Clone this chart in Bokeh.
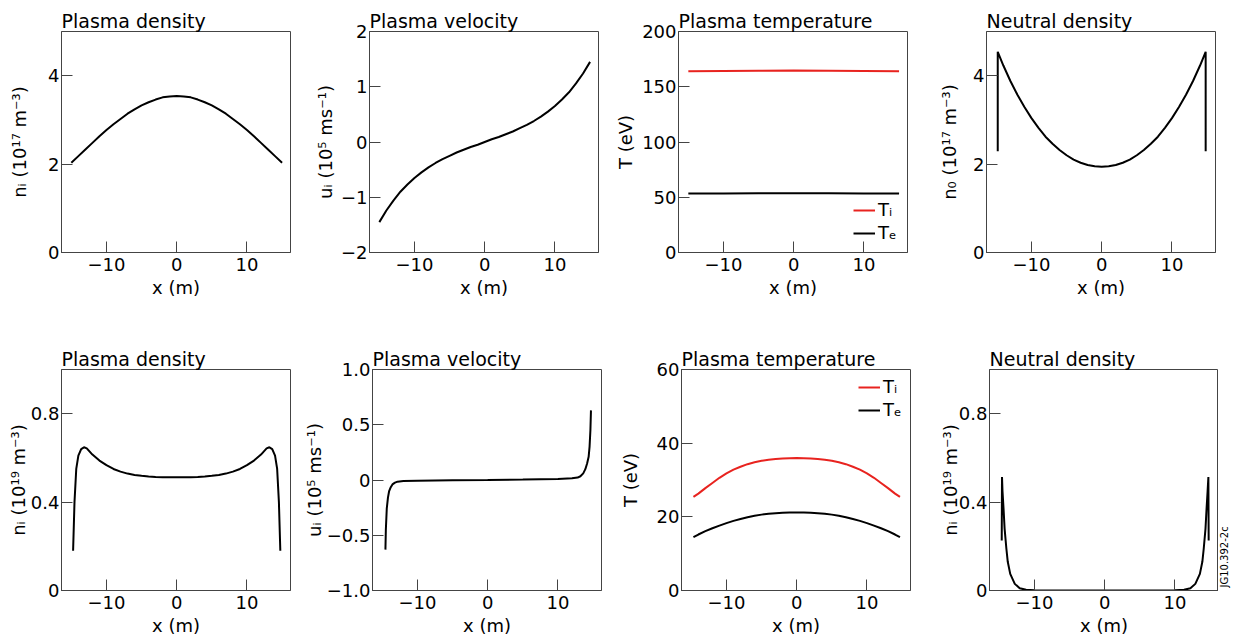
import math
from bokeh.plotting import figure
from bokeh.layouts import column, row
from bokeh.models import Range1d, FixedTicker, Legend, LegendItem, Label
from bokeh.embed import file_html
from bokeh.resources import INLINE

FONT = "DejaVu Sans"
RED = "#e8231f"
FRAME = "#444444"

# ---------------- data ----------------
x_top = [-15, -14, -13, -12, -11, -10, -9, -8, -7, -6, -5, -4, -3, -2, -1, 0,
         1, 2, 3, 4, 5, 6, 7, 8, 9, 10, 11, 12, 13, 14, 15]
ni_top = [2.03, 2.18, 2.33, 2.48, 2.63, 2.77, 2.90, 3.02, 3.14, 3.24, 3.33, 3.40, 3.46, 3.51, 3.53, 3.54,
          3.53, 3.51, 3.46, 3.40, 3.33, 3.24, 3.14, 3.02, 2.90, 2.77, 2.63, 2.48, 2.33, 2.18, 2.03]
ui_top = [-1.45, -1.24, -1.06, -0.90, -0.77, -0.65, -0.55, -0.46, -0.38, -0.31, -0.25, -0.19, -0.14, -0.09, -0.05, 0.00,
          0.05, 0.09, 0.14, 0.19, 0.25, 0.31, 0.38, 0.46, 0.55, 0.65, 0.77, 0.90, 1.06, 1.24, 1.45]
x_temp_top = [-15, -10, -5, 0, 5, 10, 15]
ti_top = [164.0, 164.3, 164.5, 164.6, 164.5, 164.3, 164.0]
te_top = [53.3, 53.5, 53.6, 53.6, 53.6, 53.5, 53.3]
x_n0_top = [-14.8, -14.8, -14, -13, -12, -11, -10, -9, -8, -7, -6, -5, -4, -3, -2, -1, 0,
            1, 2, 3, 4, 5, 6, 7, 8, 9, 10, 11, 12, 13, 14, 14.8, 14.8]
n0_top = [2.29, 4.54, 4.23, 3.88, 3.57, 3.29, 3.04, 2.82, 2.62, 2.46, 2.32, 2.20, 2.10, 2.03, 1.98, 1.95, 1.94,
          1.95, 1.98, 2.03, 2.10, 2.20, 2.32, 2.46, 2.62, 2.82, 3.04, 3.29, 3.57, 3.88, 4.23, 4.54, 2.29]

x_ni_bot = [-14.75, -14.55, -14.3, -14.0, -13.6, -13.2, -12.8, -12.0, -11.0, -10.0, -9.0, -8.0, -7.0, -6.0,
            -5.0, -4.0, -3.0, -2.0, -1.0, 0.0, 1.0, 2.0, 3.0, 4.0, 5.0, 6.0, 7.0, 8.0, 9.0, 10.0, 11.0, 12.0,
            12.8, 13.2, 13.6, 14.0, 14.3, 14.55, 14.75]
ni_bot = [0.18, 0.40, 0.55, 0.61, 0.64, 0.648, 0.643, 0.615, 0.588, 0.567, 0.550, 0.538, 0.529, 0.523,
          0.519, 0.516, 0.514, 0.513, 0.512, 0.512, 0.512, 0.513, 0.514, 0.516, 0.519, 0.523, 0.529, 0.538,
          0.550, 0.567, 0.588, 0.615, 0.643, 0.648, 0.64, 0.61, 0.55, 0.40, 0.18]
x_ui_bot = [-14.56, -14.5, -14.37, -14.2, -14.03, -13.8, -13.56, -13.2, -12.84, -12.0, -10.0, -5.0, 0.0,
            5.0, 10.0, 12.0, 12.8, 13.2, 13.6, 13.9, 14.15, 14.37, 14.5, 14.62, 14.7]
ui_bot = [-0.63, -0.45, -0.26, -0.16, -0.10, -0.065, -0.04, -0.024, -0.015, -0.010, -0.007, -0.003, 0.0,
          0.004, 0.009, 0.015, 0.022, 0.034, 0.06, 0.098, 0.15, 0.21, 0.30, 0.45, 0.63]
x_temp_bot = [-14.7, -14, -13, -12, -11, -10, -9, -8, -7, -6, -5, -4, -3, -2, -1, 0,
              1, 2, 3, 4, 5, 6, 7, 8, 9, 10, 11, 12, 13, 14, 14.7]
ti_bot = [25.4, 26.3, 27.8, 29.2, 30.6, 31.8, 32.8, 33.6, 34.3, 34.8, 35.2, 35.5, 35.7, 35.85, 35.9, 35.95,
          35.9, 35.85, 35.7, 35.5, 35.2, 34.8, 34.3, 33.6, 32.8, 31.8, 30.6, 29.2, 27.8, 26.3, 25.4]
te_bot = [14.5, 15.2, 16.1, 16.9, 17.6, 18.3, 18.9, 19.4, 19.9, 20.3, 20.6, 20.85, 21.0, 21.1, 21.15, 21.2,
          21.15, 21.1, 21.0, 20.85, 20.6, 20.3, 19.9, 19.4, 18.9, 18.3, 17.6, 16.9, 16.1, 15.2, 14.5]
x_n0_bot = [-14.66, -14.62, -14.55, -14.4, -14.25, -14.0, -13.8, -13.45, -12.8, -12.1, -11.2, -10.0, 0.0,
            10.0, 11.3, 12.2, 12.9, 13.55, 13.9, 14.1, 14.35, 14.5, 14.65, 14.76, 14.8]
n0_bot = [0.226, 0.513, 0.45, 0.37, 0.28, 0.19, 0.13, 0.075, 0.03, 0.01, 0.003, 0.001, 0.0,
          0.001, 0.003, 0.01, 0.03, 0.075, 0.13, 0.19, 0.28, 0.37, 0.45, 0.513, 0.226]

x_ticks = [-10, 0, 10]
x_tick_labels = {-10: "\u221210", 0: "0", 10: "10"}
legend_labels = ["T\u1d62", "T\u2091"]
watermark = "JG10.392-2c"

titles = ["Plasma density", "Plasma velocity", "Plasma temperature", "Neutral density"]
ylabels_top = ["n\u1d62 (10\u00b9\u2077 m\u207b\u00b3)", "u\u1d62 (10\u2075 ms\u207b\u00b9)", "T (eV)",
               "n\u2080 (10\u00b9\u2077 m\u207b\u00b3)"]
ylabels_bot = ["n\u1d62 (10\u00b9\u2079 m\u207b\u00b3)", "u\u1d62 (10\u2075 ms\u207b\u00b9)", "T (eV)",
               "n\u1d62 (10\u00b9\u2079 m\u207b\u00b3)"]

yticks = [[0, 2, 4], [-2, -1, 0, 1, 2], [0, 50, 100, 150, 200], [0, 2, 4],
          [0, 0.4, 0.8], [-1, -0.5, 0, 0.5, 1], [0, 20, 40, 60], [0, 0.4, 0.8]]
ytick_labels = [
    {0: "0", 2: "2", 4: "4"},
    {-2: "\u22122", -1: "\u22121", 0: "0", 1: "1", 2: "2"},
    {0: "0", 50: "50", 100: "100", 150: "150", 200: "200"},
    {0: "0", 2: "2", 4: "4"},
    {0: "0", 0.4: "0.4", 0.8: "0.8"},
    {-1: "\u22121.0", -0.5: "\u22120.5", 0: "0", 0.5: "0.5", 1: "1.0"},
    {0: "0", 20: "20", 40: "40", 60: "60"},
    {0: "0", 0.4: "0.4", 0.8: "0.8"},
]
yranges = [(0, 5), (-2, 2), (0, 200), (0, 5), (0, 1), (-1, 1), (0, 60), (0, 1)]

# layout geometry
FW, FH = 229, 221
XR = (-16.4, 16.2)
col_left = [61, 69, 70, 69]
col_right = [[10, 10, 10, 22], [10, 10, 10, 0]]
row_top = [31, 31]
row_bottom = [86, 54]
ylabel_standoff = [15, 2, 3, 10, -1, -1, 13, -5]
WM_W = 22


def make_panel(i):
    r, c = divmod(i, 4)
    p = figure(frame_width=FW, frame_height=FH,
               x_range=Range1d(*XR), y_range=Range1d(*yranges[i]),
               output_backend="svg", toolbar_location=None,
               min_border_left=col_left[c], min_border_right=col_right[r][c],
               min_border_top=row_top[r], min_border_bottom=row_bottom[r])
    p.title.text = titles[c]
    p.title.text_font = FONT
    p.title.text_font_size = "19px"
    p.title.text_font_style = "normal"
    p.title.text_color = "black"
    p.title.align = "left"
    p.title.standoff = 0
    p.title.offset = 0
    p.grid.visible = False
    p.outline_line_color = FRAME
    p.outline_line_width = 1
    p.background_fill_color = "white"
    p.border_fill_color = "white"

    for ax in (p.xaxis[0], p.yaxis[0]):
        ax.axis_line_color = FRAME
        ax.major_tick_line_color = FRAME
        ax.major_tick_line_width = 1
        ax.major_tick_in = 11
        ax.major_tick_out = 0
        ax.minor_tick_line_color = None
        ax.major_label_text_font = FONT
        ax.major_label_text_font_size = "18px"
        ax.major_label_text_color = "black"
        ax.axis_label_text_font = FONT
        ax.axis_label_text_font_size = "18px"
        ax.axis_label_text_font_style = "normal"
        ax.axis_label_text_color = "black"

    p.xaxis.ticker = FixedTicker(ticks=x_ticks)
    p.xaxis.major_label_overrides = x_tick_labels
    p.xaxis.axis_label = "x (m)"
    p.xaxis.major_label_standoff = 5
    p.xaxis.axis_label_standoff = 3

    p.yaxis.ticker = FixedTicker(ticks=yticks[i])
    p.yaxis.major_label_overrides = ytick_labels[i]
    p.yaxis.axis_label = (ylabels_top if r == 0 else ylabels_bot)[c]
    p.yaxis.major_label_standoff = 2
    p.yaxis.axis_label_standoff = ylabel_standoff[i]
    return p


panels = [make_panel(i) for i in range(8)]

# top row
panels[0].line(x_top, ni_top, line_color="black", line_width=2)
panels[1].line(x_top, ui_top, line_color="black", line_width=2)
r_ti = panels[2].line(x_temp_top, ti_top, line_color=RED, line_width=2)
r_te = panels[2].line(x_temp_top, te_top, line_color="black", line_width=2)
panels[3].line(x_n0_top, n0_top, line_color="black", line_width=2)

# bottom row
panels[4].line(x_ni_bot, ni_bot, line_color="black", line_width=2)
panels[5].line(x_ui_bot, ui_bot, line_color="black", line_width=2)
r_ti2 = panels[6].line(x_temp_bot, ti_bot, line_color=RED, line_width=2)
r_te2 = panels[6].line(x_temp_bot, te_bot, line_color="black", line_width=2)
panels[7].line(x_n0_bot, n0_bot, line_color="black", line_width=2)


def add_legend(p, rs, loc, margin):
    leg = Legend(items=[LegendItem(label=legend_labels[0], renderers=[rs[0]]),
                        LegendItem(label=legend_labels[1], renderers=[rs[1]])],
                 location=loc, margin=margin, padding=4, spacing=2,
                 glyph_width=22, glyph_height=20, label_height=20, label_standoff=3,
                 label_text_font=FONT, label_text_font_size="18px", label_text_color="black",
                 background_fill_alpha=0, border_line_alpha=0)
    p.add_layout(leg)


add_legend(panels[2], (r_ti, r_te), "bottom_right", 5)
add_legend(panels[6], (r_ti2, r_te2), "top_right", 3)

# narrow strip right of the last panel carrying the figure code
wm = figure(frame_width=WM_W, frame_height=FH, x_range=Range1d(0, WM_W), y_range=Range1d(0, FH),
            output_backend="svg", toolbar_location=None,
            x_axis_location=None, y_axis_location=None,
            min_border_left=0, min_border_right=0,
            min_border_top=row_top[1], min_border_bottom=row_bottom[1])
wm.outline_line_color = None
wm.grid.visible = False
wm.background_fill_color = "white"
wm.border_fill_color = "white"
wm.add_layout(Label(x=6, y=3, x_units="data", y_units="data", text=watermark, angle=math.pi / 2,
                    text_font=FONT, text_font_size="10px", text_color="black",
                    text_align="left", text_baseline="middle"))

layout = column(row(*panels[:4], spacing=0), row(*panels[4:], wm, spacing=0), spacing=0)

with open("out.html", "w") as f:
    f.write(file_html(layout, INLINE))
